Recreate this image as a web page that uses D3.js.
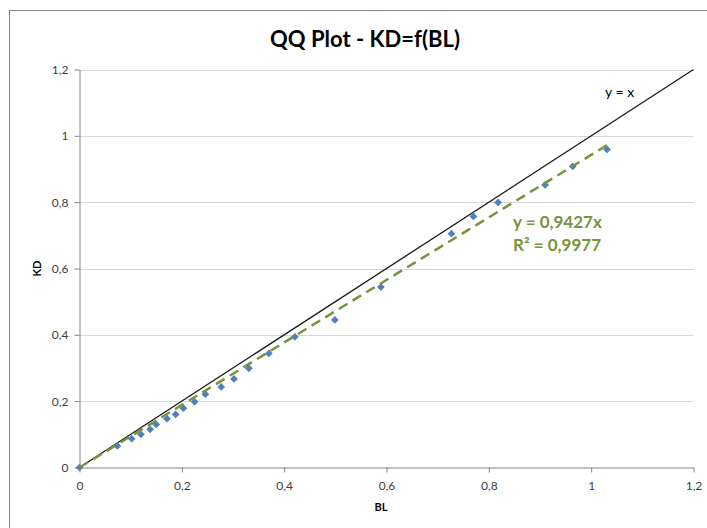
<!DOCTYPE html>
<html>
<head>
<meta charset="utf-8">
<script src="https://cdn.jsdelivr.net/npm/d3@7"></script>
<style>
  html, body { margin: 0; padding: 0; background: #fff; }
  svg { display: block; font-family: Lato, "Open Sans", sans-serif; }
</style>
</head>
<body>
<svg id="chart" width="707" height="528"></svg>
<script>
// Quantile pairs: BL on the x axis, KD on the y axis
const blValues = [0, 0.074, 0.102, 0.120, 0.138, 0.150, 0.171, 0.188, 0.203, 0.225, 0.246, 0.277, 0.302, 0.331, 0.370, 0.421, 0.499, 0.589, 0.727, 0.770, 0.818, 0.910, 0.964, 1.031];
const kdValues = [0, 0.065, 0.087, 0.100, 0.115, 0.130, 0.147, 0.160, 0.179, 0.198, 0.221, 0.243, 0.267, 0.299, 0.344, 0.394, 0.445, 0.544, 0.705, 0.757, 0.799, 0.852, 0.908, 0.959];
const tickValues = [0, 0.2, 0.4, 0.6, 0.8, 1, 1.2];
const slope = 0.9427;
const rSquared = 0.9977;

const points = blValues.map((x, i) => ({ x, y: kdValues[i] }));
const fmt = v => String(+v.toFixed(4)).replace(".", ",");

const svg = d3.select("#chart");
const W = 707, H = 528;
const plot = { left: 79.5, right: 693.5, top: 69.5, bottom: 467.5 };

const x = d3.scaleLinear().domain([0, 1.2]).range([plot.left, plot.right]);
const y = d3.scaleLinear().domain([0, 1.2]).range([plot.bottom, plot.top]);

// chart frame
svg.append("rect")
  .attr("x", 9.5).attr("y", 10.5)
  .attr("width", W + 20).attr("height", H + 20)
  .attr("fill", "#fff").attr("stroke", "#868686").attr("stroke-width", 1);

// title
svg.append("text")
  .attr("x", 365).attr("y", 47)
  .attr("text-anchor", "middle")
  .attr("font-size", 22).attr("font-weight", "bold").attr("fill", "#000")
  .text("QQ Plot - KD=f(BL)");

// horizontal gridlines
svg.append("g").selectAll("line")
  .data(tickValues.filter(v => v > 0))
  .join("line")
  .attr("x1", plot.left).attr("x2", plot.right)
  .attr("y1", d => Math.round(y(d)) + 0.5).attr("y2", d => Math.round(y(d)) + 0.5)
  .attr("stroke", "#d9d9d9").attr("stroke-width", 1);

// axes
const xAxis = svg.append("g")
  .attr("transform", `translate(0,${plot.bottom})`)
  .call(d3.axisBottom(x).tickValues(tickValues).tickFormat(fmt).tickSizeInner(5).tickSizeOuter(0).tickPadding(9));
const yAxis = svg.append("g")
  .attr("transform", `translate(${plot.left},0)`)
  .call(d3.axisLeft(y).tickValues(tickValues).tickFormat(fmt).tickSizeInner(5).tickSizeOuter(0).tickPadding(6));

[xAxis, yAxis].forEach(g => {
  g.select(".domain").attr("stroke", "#868686");
  g.selectAll(".tick line").attr("stroke", "#868686");
  g.selectAll(".tick text").attr("fill", "#404040").attr("font-size", 12)
    .attr("font-family", "Lato, 'Open Sans', sans-serif");
});

// axis titles
svg.append("text")
  .attr("x", 381).attr("y", 511)
  .attr("text-anchor", "middle")
  .attr("font-size", 11).attr("font-weight", "bold").attr("fill", "#000")
  .text("BL");
svg.append("text")
  .attr("transform", `translate(41,${y(0.6)}) rotate(-90)`)
  .attr("text-anchor", "middle")
  .attr("font-size", 11).attr("font-weight", "bold").attr("fill", "#000")
  .text("KD");

// reference line y = x
svg.append("line")
  .attr("x1", x(0)).attr("y1", y(0))
  .attr("x2", x(1.2)).attr("y2", y(1.2))
  .attr("stroke", "#1a1a1a").attr("stroke-width", 1.3);
svg.append("text")
  .attr("x", 605).attr("y", 97)
  .attr("font-size", 14).attr("fill", "#000")
  .text("y = x");

// points: square markers turned 45 degrees
const marker = d3.symbol().type(d3.symbolSquare).size(30);
svg.append("g").selectAll("path")
  .data(points)
  .join("path")
  .attr("transform", d => `translate(${x(d.x)},${y(d.y)}) rotate(45)`)
  .attr("d", marker)
  .attr("fill", "#4f81bd");

// linear trend through the origin
const xMax = d3.max(blValues);
svg.append("line")
  .attr("x1", x(0)).attr("y1", y(0))
  .attr("x2", x(xMax)).attr("y2", y(slope * xMax))
  .attr("stroke", "#77933c").attr("stroke-width", 2.5)
  .attr("stroke-dasharray", "10,6");

// trend equation
const eq = svg.append("g").attr("font-size", 17).attr("font-weight", "bold").attr("fill", "#77933c");
eq.append("text").attr("x", 513).attr("y", 228).text(`y = ${fmt(slope)}x`);
eq.append("text").attr("x", 513).attr("y", 251).text(`R² = ${fmt(rSquared)}`);
</script>
</body>
</html>
